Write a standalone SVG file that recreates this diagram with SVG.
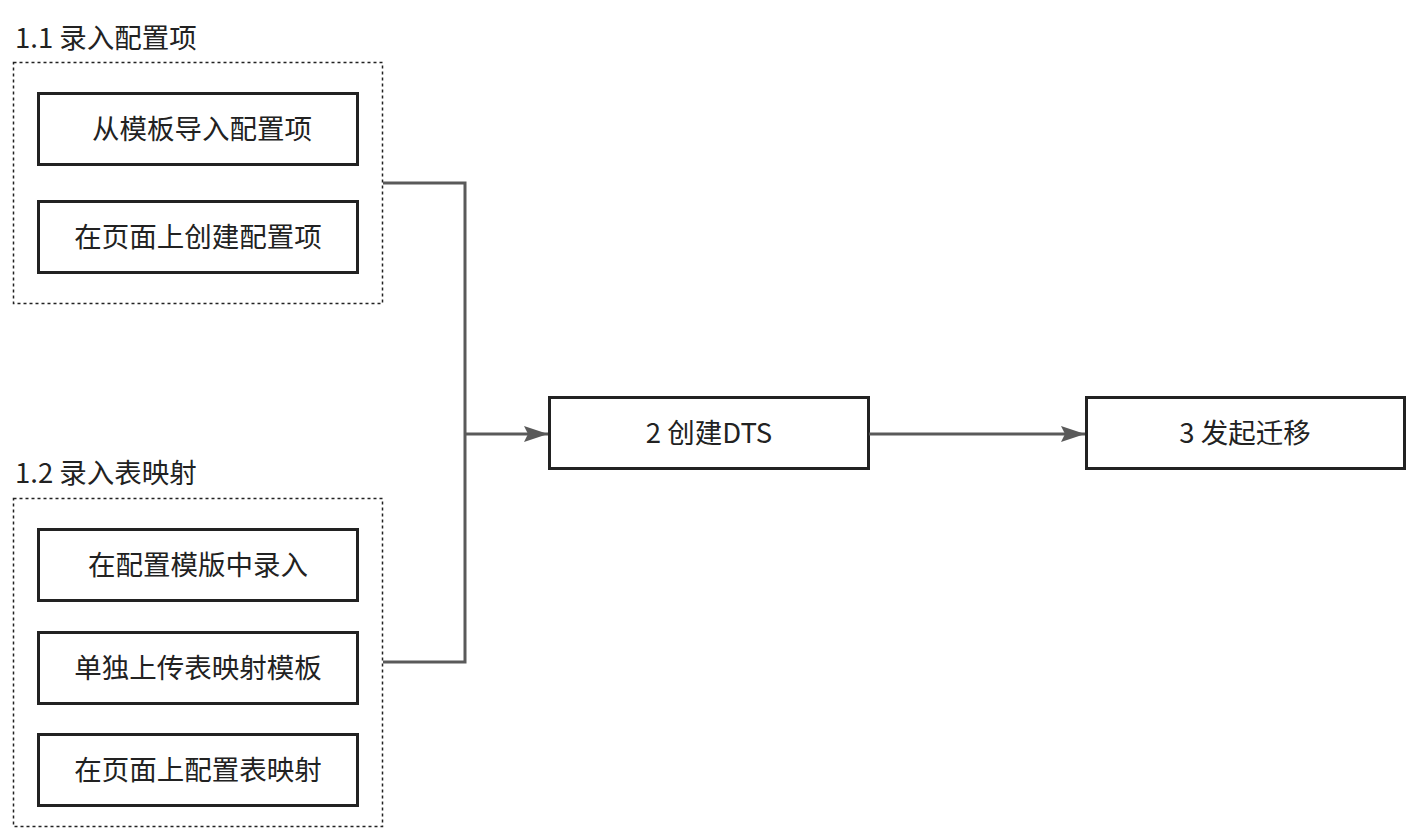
<svg xmlns="http://www.w3.org/2000/svg" width="1418" height="832" viewBox="0 0 1418 832">
<defs>
<style>
.grp{fill:none;stroke:#222;stroke-width:1.5;stroke-dasharray:3 3}
.box{fill:#fff;stroke:#222;stroke-width:3}
.t{font-family:"Noto Sans CJK SC","Noto Sans",sans-serif;font-size:27.5px;fill:#222;text-anchor:middle}
.title{font-family:"Noto Sans CJK SC","Noto Sans",sans-serif;font-size:27.5px;fill:#222}
.edge{fill:none;stroke:#5a5a5a;stroke-width:3}
</style>
<marker id="arrow" viewBox="0 0 24 16" refX="24" refY="8" markerWidth="24" markerHeight="16" markerUnits="userSpaceOnUse" orient="auto">
<path d="M0,0 L24,8 L0,16 L4,8 z" fill="#5a5a5a"/>
</marker>
</defs>
<rect width="1418" height="832" fill="#fff"/>

<g id="group-1-1">
<text class="title" x="15" y="48">1.1 录入配置项</text>
<rect class="grp" x="13.5" y="62.5" width="369" height="241"/>
</g>
<g id="node-import">
<rect class="box" x="38.5" y="93.5" width="319" height="71"/>
<text class="t" x="202" y="139">从模板导入配置项</text>
</g>
<g id="node-create-page">
<rect class="box" x="38.5" y="201.5" width="319" height="71"/>
<text class="t" x="198" y="247">在页面上创建配置项</text>
</g>

<g id="group-1-2">
<text class="title" x="15" y="483">1.2 录入表映射</text>
<rect class="grp" x="13.5" y="498.5" width="369" height="328"/>
</g>
<g id="node-template">
<rect class="box" x="38.5" y="529.5" width="319" height="71"/>
<text class="t" x="198" y="575">在配置模版中录入</text>
</g>
<g id="node-upload">
<rect class="box" x="38.5" y="632.5" width="319" height="71"/>
<text class="t" x="198" y="678">单独上传表映射模板</text>
</g>
<g id="node-page-map">
<rect class="box" x="38.5" y="734.5" width="319" height="71"/>
<text class="t" x="198" y="780">在页面上配置表映射</text>
</g>

<g id="node-dts">
<rect class="box" x="549.5" y="397.5" width="319" height="71"/>
<text class="t" x="709" y="443">2 创建DTS</text>
</g>
<g id="node-migrate">
<rect class="box" x="1086.5" y="397.5" width="318" height="71"/>
<text class="t" x="1245" y="443">3 发起迁移</text>
</g>

<g id="connectors">
<path class="edge" d="M383,183 H465 V662 H383"/>
<path class="edge" d="M465,434 H548" marker-end="url(#arrow)"/>
<path class="edge" d="M869,434 H1085" marker-end="url(#arrow)"/>
</g>
</svg>
